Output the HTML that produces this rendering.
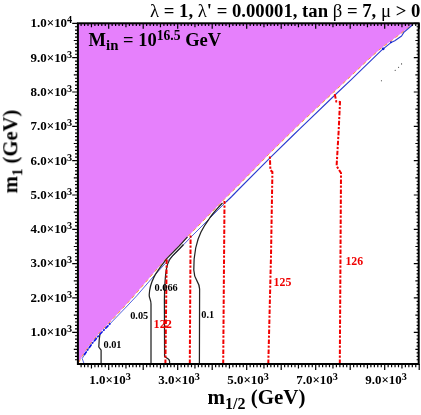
<!DOCTYPE html>
<html><head><meta charset="utf-8"><title>plot</title>
<style>html,body{margin:0;padding:0;background:#fff;}body{width:421px;height:415px;overflow:hidden;}svg{display:block;will-change:transform;}text{font-family:"Liberation Serif",serif;font-weight:bold;fill:#000;}.g{font-weight:normal;}.r{fill:#f00000;}</style>
</head><body>
<svg width="421" height="415" viewBox="0 0 421 415">
<defs><filter id="nf" filterUnits="userSpaceOnUse" x="0" y="0" width="421" height="415"><feOffset dx="0" dy="0"/></filter></defs>
<rect width="421" height="415" fill="#fff"/>
<polygon points="77.9,364.0 78.6,362.6 79.5,361 84.5,352.5 91,343 98.9,333.4 106.8,325.2 116.4,315.1 129.1,301.3 135.9,293.6 151.8,275 166.2,258.6 180,244.8 190.2,234 224,199.6 237.5,186.2 268.8,154.2 297.5,126 333.8,92 351,75.9 367.9,59.9 381.4,47.9 391.5,40.6 401.6,32.9 412.5,24.2 413.5,23.3 77.9,23.3" fill="#e680fc"/>
<polyline points="78.6,362.6 79.5,361 84.5,352.5 91,343 98.9,333.4 106.8,325.2 116.4,315.1 129.1,301.3 135.9,293.6 151.8,275 166.2,258.6 180,244.8 190.2,234 224,199.6 237.5,186.2 268.8,154.2 297.5,126 333.8,92 351,75.9 367.9,59.9 381.4,47.9 391.5,40.6 401.6,32.9 412.5,24.2" fill="none" stroke="#ff9a30" stroke-width="1" stroke-dasharray="3.5 3.5"/>
<polyline points="83.8,363 82.2,358.5 85.5,353 92,343.6 99.9,334.2 107.9,326 117.5,316 127.2,306 137,295.5 153,277 168,260.5 175,253.6 181.5,246.8 192,236 226,202" fill="none" stroke="#3344d8" stroke-width="0.85" stroke-linejoin="round"/>
<polyline points="226,202 231.7,196.5 240,188 270.5,157.3 293.4,135 300,128.6 335.5,94.5 351,79.9 360,71.2 381.4,50.4 390.6,42.8 394.8,40.8 401.6,36 403.8,32.4 413,24.5" fill="none" stroke="#2a3ad0" stroke-width="1.1" stroke-linejoin="round"/>
<polyline points="84.2,355 85.8,352.6 92.2,343.4 100.1,334 108,325.8 110.5,323.2" fill="none" stroke="#1010e8" stroke-width="1.7" stroke-dasharray="4 1.5 1.5 1.5"/>
<circle cx="383.2" cy="48.8" r="1.4" fill="#1020d0"/><circle cx="391" cy="42.3" r="1" fill="#1020d0"/>
<g fill="#222"><circle cx="381.4" cy="80.8" r="0.55"/><circle cx="395.2" cy="70.3" r="0.55"/><circle cx="398.6" cy="67.3" r="0.55"/><circle cx="401.6" cy="63.9" r="0.55"/></g>
<path d="M101.1,364.0 L101.1,350.2 L98.8,347 L99.2,340 L99.9,334.5" stroke="#222" stroke-width="1.25" fill="none" stroke-linejoin="round"/>
<path d="M151,364.0 L151,304 C151,299 149.2,299 149.2,295 C149.4,289 152,281 154.2,276.6 C156,273 158,270.5 159.8,267.9 L167.0,258.4 L179.3,245.9 L187.5,236.8" stroke="#222" stroke-width="1.25" fill="none" stroke-linejoin="round"/>
<path d="M169.6,364.0 L169.6,361.5 Q169.6,360 168.3,359 L164.6,356.4 L164.4,300 C164.6,285 165.5,270 167.7,263.9 C169,260 171,257.5 172.5,255.9 L180,248.2 L183.5,244.5" stroke="#222" stroke-width="1.25" fill="none" stroke-linejoin="round"/>
<path d="M199.4,364.0 L199.6,289 C199.6,281 194,281 193.8,270 C193.6,262 194.5,254 195.7,248 C197,242 199,236 201,232 C203.5,227 206,223 209,219 C212,214.5 216,210 219.7,206 L222.5,203" stroke="#222" stroke-width="1.25" fill="none" stroke-linejoin="round"/>
<path d="M165.4,364.0 L166.7,258.6" stroke="#f00000" stroke-width="2.0" fill="none" stroke-dasharray="4.6 1.6 2.2 1.6"/>
<path d="M189.8,364.0 L190.6,234.5" stroke="#f00000" stroke-width="2.0" fill="none" stroke-dasharray="4.6 1.6 2.2 1.6"/>
<path d="M223.2,364.0 L224.5,201" stroke="#f00000" stroke-width="2.0" fill="none" stroke-dasharray="4.6 1.6 2.2 1.6"/>
<path d="M268.3,364.0 L271,256 L272.4,172 L270.4,170 L269.8,155" stroke="#f00000" stroke-width="2.0" fill="none" stroke-dasharray="4.6 1.6 2.2 1.6"/>
<path d="M339.8,364.0 L341,173 L336.6,166 L338.6,132 L340,102 L336.3,101.5 L334.4,92.5" stroke="#f00000" stroke-width="2.0" fill="none" stroke-dasharray="4.6 1.6 2.2 1.6"/>
<path d="M75.0,359.76H77.9M416.6,359.76H418.7M81.10,364.0V367.2M81.10,23.3V25.95M75.0,356.33H77.9M416.6,356.33H418.7M84.55,364.0V367.2M84.55,23.3V25.95M75.0,352.90H77.9M416.6,352.90H418.7M88.00,364.0V367.2M88.00,23.3V25.95M73.80000000000001,349.47H77.9M415.4,349.47H418.7M91.45,364.0V368.40000000000003M91.45,23.3V27.150000000000002M75.0,346.03H77.9M416.6,346.03H418.7M94.90,364.0V367.2M94.90,23.3V25.95M75.0,342.60H77.9M416.6,342.60H418.7M98.35,364.0V367.2M98.35,23.3V25.95M75.0,339.17H77.9M416.6,339.17H418.7M101.80,364.0V367.2M101.80,23.3V25.95M75.0,335.73H77.9M416.6,335.73H418.7M105.25,364.0V367.2M105.25,23.3V25.95M72.2,332.30H77.9M413.8,332.30H418.7M108.70,364.0V370.0M108.70,23.3V28.75M75.0,328.87H77.9M416.6,328.87H418.7M112.15,364.0V367.2M112.15,23.3V25.95M75.0,325.43H77.9M416.6,325.43H418.7M115.60,364.0V367.2M115.60,23.3V25.95M75.0,322.00H77.9M416.6,322.00H418.7M119.05,364.0V367.2M119.05,23.3V25.95M75.0,318.57H77.9M416.6,318.57H418.7M122.50,364.0V367.2M122.50,23.3V25.95M73.80000000000001,315.13H77.9M415.4,315.13H418.7M125.95,364.0V368.40000000000003M125.95,23.3V27.150000000000002M75.0,311.70H77.9M416.6,311.70H418.7M129.40,364.0V367.2M129.40,23.3V25.95M75.0,308.27H77.9M416.6,308.27H418.7M132.85,364.0V367.2M132.85,23.3V25.95M75.0,304.84H77.9M416.6,304.84H418.7M136.30,364.0V367.2M136.30,23.3V25.95M75.0,301.40H77.9M416.6,301.40H418.7M139.75,364.0V367.2M139.75,23.3V25.95M72.2,297.97H77.9M413.8,297.97H418.7M143.20,364.0V370.0M143.20,23.3V28.75M75.0,294.54H77.9M416.6,294.54H418.7M146.65,364.0V367.2M146.65,23.3V25.95M75.0,291.10H77.9M416.6,291.10H418.7M150.10,364.0V367.2M150.10,23.3V25.95M75.0,287.67H77.9M416.6,287.67H418.7M153.55,364.0V367.2M153.55,23.3V25.95M75.0,284.24H77.9M416.6,284.24H418.7M157.00,364.0V367.2M157.00,23.3V25.95M73.80000000000001,280.81H77.9M415.4,280.81H418.7M160.45,364.0V368.40000000000003M160.45,23.3V27.150000000000002M75.0,277.37H77.9M416.6,277.37H418.7M163.90,364.0V367.2M163.90,23.3V25.95M75.0,273.94H77.9M416.6,273.94H418.7M167.35,364.0V367.2M167.35,23.3V25.95M75.0,270.51H77.9M416.6,270.51H418.7M170.80,364.0V367.2M170.80,23.3V25.95M75.0,267.07H77.9M416.6,267.07H418.7M174.25,364.0V367.2M174.25,23.3V25.95M72.2,263.64H77.9M413.8,263.64H418.7M177.70,364.0V370.0M177.70,23.3V28.75M75.0,260.21H77.9M416.6,260.21H418.7M181.15,364.0V367.2M181.15,23.3V25.95M75.0,256.77H77.9M416.6,256.77H418.7M184.60,364.0V367.2M184.60,23.3V25.95M75.0,253.34H77.9M416.6,253.34H418.7M188.05,364.0V367.2M188.05,23.3V25.95M75.0,249.91H77.9M416.6,249.91H418.7M191.50,364.0V367.2M191.50,23.3V25.95M73.80000000000001,246.48H77.9M415.4,246.48H418.7M194.95,364.0V368.40000000000003M194.95,23.3V27.150000000000002M75.0,243.04H77.9M416.6,243.04H418.7M198.40,364.0V367.2M198.40,23.3V25.95M75.0,239.61H77.9M416.6,239.61H418.7M201.85,364.0V367.2M201.85,23.3V25.95M75.0,236.18H77.9M416.6,236.18H418.7M205.30,364.0V367.2M205.30,23.3V25.95M75.0,232.74H77.9M416.6,232.74H418.7M208.75,364.0V367.2M208.75,23.3V25.95M72.2,229.31H77.9M413.8,229.31H418.7M212.20,364.0V370.0M212.20,23.3V28.75M75.0,225.88H77.9M416.6,225.88H418.7M215.65,364.0V367.2M215.65,23.3V25.95M75.0,222.44H77.9M416.6,222.44H418.7M219.10,364.0V367.2M219.10,23.3V25.95M75.0,219.01H77.9M416.6,219.01H418.7M222.55,364.0V367.2M222.55,23.3V25.95M75.0,215.58H77.9M416.6,215.58H418.7M226.00,364.0V367.2M226.00,23.3V25.95M73.80000000000001,212.15H77.9M415.4,212.15H418.7M229.45,364.0V368.40000000000003M229.45,23.3V27.150000000000002M75.0,208.71H77.9M416.6,208.71H418.7M232.90,364.0V367.2M232.90,23.3V25.95M75.0,205.28H77.9M416.6,205.28H418.7M236.35,364.0V367.2M236.35,23.3V25.95M75.0,201.85H77.9M416.6,201.85H418.7M239.80,364.0V367.2M239.80,23.3V25.95M75.0,198.41H77.9M416.6,198.41H418.7M243.25,364.0V367.2M243.25,23.3V25.95M72.2,194.98H77.9M413.8,194.98H418.7M246.70,364.0V370.0M246.70,23.3V28.75M75.0,191.55H77.9M416.6,191.55H418.7M250.15,364.0V367.2M250.15,23.3V25.95M75.0,188.11H77.9M416.6,188.11H418.7M253.60,364.0V367.2M253.60,23.3V25.95M75.0,184.68H77.9M416.6,184.68H418.7M257.05,364.0V367.2M257.05,23.3V25.95M75.0,181.25H77.9M416.6,181.25H418.7M260.50,364.0V367.2M260.50,23.3V25.95M73.80000000000001,177.82H77.9M415.4,177.82H418.7M263.95,364.0V368.40000000000003M263.95,23.3V27.150000000000002M75.0,174.38H77.9M416.6,174.38H418.7M267.40,364.0V367.2M267.40,23.3V25.95M75.0,170.95H77.9M416.6,170.95H418.7M270.85,364.0V367.2M270.85,23.3V25.95M75.0,167.52H77.9M416.6,167.52H418.7M274.30,364.0V367.2M274.30,23.3V25.95M75.0,164.08H77.9M416.6,164.08H418.7M277.75,364.0V367.2M277.75,23.3V25.95M72.2,160.65H77.9M413.8,160.65H418.7M281.20,364.0V370.0M281.20,23.3V28.75M75.0,157.22H77.9M416.6,157.22H418.7M284.65,364.0V367.2M284.65,23.3V25.95M75.0,153.78H77.9M416.6,153.78H418.7M288.10,364.0V367.2M288.10,23.3V25.95M75.0,150.35H77.9M416.6,150.35H418.7M291.55,364.0V367.2M291.55,23.3V25.95M75.0,146.92H77.9M416.6,146.92H418.7M295.00,364.0V367.2M295.00,23.3V25.95M73.80000000000001,143.49H77.9M415.4,143.49H418.7M298.45,364.0V368.40000000000003M298.45,23.3V27.150000000000002M75.0,140.05H77.9M416.6,140.05H418.7M301.90,364.0V367.2M301.90,23.3V25.95M75.0,136.62H77.9M416.6,136.62H418.7M305.35,364.0V367.2M305.35,23.3V25.95M75.0,133.19H77.9M416.6,133.19H418.7M308.80,364.0V367.2M308.80,23.3V25.95M75.0,129.75H77.9M416.6,129.75H418.7M312.25,364.0V367.2M312.25,23.3V25.95M72.2,126.32H77.9M413.8,126.32H418.7M315.70,364.0V370.0M315.70,23.3V28.75M75.0,122.89H77.9M416.6,122.89H418.7M319.15,364.0V367.2M319.15,23.3V25.95M75.0,119.45H77.9M416.6,119.45H418.7M322.60,364.0V367.2M322.60,23.3V25.95M75.0,116.02H77.9M416.6,116.02H418.7M326.05,364.0V367.2M326.05,23.3V25.95M75.0,112.59H77.9M416.6,112.59H418.7M329.50,364.0V367.2M329.50,23.3V25.95M73.80000000000001,109.16H77.9M415.4,109.16H418.7M332.95,364.0V368.40000000000003M332.95,23.3V27.150000000000002M75.0,105.72H77.9M416.6,105.72H418.7M336.40,364.0V367.2M336.40,23.3V25.95M75.0,102.29H77.9M416.6,102.29H418.7M339.85,364.0V367.2M339.85,23.3V25.95M75.0,98.86H77.9M416.6,98.86H418.7M343.30,364.0V367.2M343.30,23.3V25.95M75.0,95.42H77.9M416.6,95.42H418.7M346.75,364.0V367.2M346.75,23.3V25.95M72.2,91.99H77.9M413.8,91.99H418.7M350.20,364.0V370.0M350.20,23.3V28.75M75.0,88.56H77.9M416.6,88.56H418.7M353.65,364.0V367.2M353.65,23.3V25.95M75.0,85.12H77.9M416.6,85.12H418.7M357.10,364.0V367.2M357.10,23.3V25.95M75.0,81.69H77.9M416.6,81.69H418.7M360.55,364.0V367.2M360.55,23.3V25.95M75.0,78.26H77.9M416.6,78.26H418.7M364.00,364.0V367.2M364.00,23.3V25.95M73.80000000000001,74.82H77.9M415.4,74.82H418.7M367.45,364.0V368.40000000000003M367.45,23.3V27.150000000000002M75.0,71.39H77.9M416.6,71.39H418.7M370.90,364.0V367.2M370.90,23.3V25.95M75.0,67.96H77.9M416.6,67.96H418.7M374.35,364.0V367.2M374.35,23.3V25.95M75.0,64.53H77.9M416.6,64.53H418.7M377.80,364.0V367.2M377.80,23.3V25.95M75.0,61.09H77.9M416.6,61.09H418.7M381.25,364.0V367.2M381.25,23.3V25.95M72.2,57.66H77.9M413.8,57.66H418.7M384.70,364.0V370.0M384.70,23.3V28.75M75.0,54.23H77.9M416.6,54.23H418.7M388.15,364.0V367.2M388.15,23.3V25.95M75.0,50.79H77.9M416.6,50.79H418.7M391.60,364.0V367.2M391.60,23.3V25.95M75.0,47.36H77.9M416.6,47.36H418.7M395.05,364.0V367.2M395.05,23.3V25.95M75.0,43.93H77.9M416.6,43.93H418.7M398.50,364.0V367.2M398.50,23.3V25.95M73.80000000000001,40.50H77.9M415.4,40.50H418.7M401.95,364.0V368.40000000000003M401.95,23.3V27.150000000000002M75.0,37.06H77.9M416.6,37.06H418.7M405.40,364.0V367.2M405.40,23.3V25.95M75.0,33.63H77.9M416.6,33.63H418.7M408.85,364.0V367.2M408.85,23.3V25.95M75.0,30.20H77.9M416.6,30.20H418.7M412.30,364.0V367.2M412.30,23.3V25.95M75.0,26.76H77.9M416.6,26.76H418.7M415.75,364.0V367.2M415.75,23.3V25.95M72.2,23.33H77.9M413.8,23.33H418.7M419.20,364.0V370.0M419.20,23.3V28.75" stroke="#000" stroke-width="1.2" fill="none"/>
<rect x="77.9" y="23.3" width="340.79999999999995" height="340.7" fill="none" stroke="#000" stroke-width="2"/>
<g filter="url(#nf)">
<text x="72.2" y="336.1" font-size="12.95" text-anchor="end">1.0×10<tspan dy="-4" font-size="10.2">3</tspan></text>
<text x="72.2" y="301.8" font-size="12.95" text-anchor="end">2.0×10<tspan dy="-4" font-size="10.2">3</tspan></text>
<text x="72.2" y="267.4" font-size="12.95" text-anchor="end">3.0×10<tspan dy="-4" font-size="10.2">3</tspan></text>
<text x="72.2" y="233.1" font-size="12.95" text-anchor="end">4.0×10<tspan dy="-4" font-size="10.2">3</tspan></text>
<text x="72.2" y="198.8" font-size="12.95" text-anchor="end">5.0×10<tspan dy="-4" font-size="10.2">3</tspan></text>
<text x="72.2" y="164.5" font-size="12.95" text-anchor="end">6.0×10<tspan dy="-4" font-size="10.2">3</tspan></text>
<text x="72.2" y="130.1" font-size="12.95" text-anchor="end">7.0×10<tspan dy="-4" font-size="10.2">3</tspan></text>
<text x="72.2" y="95.8" font-size="12.95" text-anchor="end">8.0×10<tspan dy="-4" font-size="10.2">3</tspan></text>
<text x="72.2" y="61.5" font-size="12.95" text-anchor="end">9.0×10<tspan dy="-4" font-size="10.2">3</tspan></text>
<text x="72.2" y="27.1" font-size="12.95" text-anchor="end">1.0×10<tspan dy="-4" font-size="10.2">4</tspan></text>
<text x="110.0" y="383.6" font-size="12.95" text-anchor="middle">1.0×10<tspan dy="-4" font-size="10.2">3</tspan></text>
<text x="179.0" y="383.6" font-size="12.95" text-anchor="middle">3.0×10<tspan dy="-4" font-size="10.2">3</tspan></text>
<text x="248.0" y="383.6" font-size="12.95" text-anchor="middle">5.0×10<tspan dy="-4" font-size="10.2">3</tspan></text>
<text x="317.0" y="383.6" font-size="12.95" text-anchor="middle">7.0×10<tspan dy="-4" font-size="10.2">3</tspan></text>
<text x="386.0" y="383.6" font-size="12.95" text-anchor="middle">9.0×10<tspan dy="-4" font-size="10.2">3</tspan></text>
<text x="420.3" y="17.4" font-size="18.7" text-anchor="end"><tspan class="g">λ</tspan> = 1, <tspan class="g">λ</tspan>' = 0.00001, tan <tspan class="g">β</tspan> = 7, <tspan class="g">μ</tspan> &gt; 0</text>
<text x="88.6" y="45.6" font-size="18.5">M<tspan dy="4.6" font-size="14.8">in</tspan><tspan dy="-4.6"> = 10</tspan><tspan dy="-5.3" font-size="13.6">16.5</tspan><tspan dy="5.3"> GeV</tspan></text>
<text x="207.5" y="403.5" font-size="21">m<tspan dy="5" font-size="16">1/2</tspan><tspan dy="-5"> (GeV)</tspan></text>
<text transform="translate(17.3,193.3) rotate(-90)" font-size="20.6">m<tspan dy="4.6" font-size="15">1</tspan><tspan dy="-4.6"> (GeV)</tspan></text>
<text x="103.5" y="348.4" font-size="10.3">0.01</text>
<text x="130.2" y="318.8" font-size="10.3">0.05</text>
<text x="154.6" y="291.1" font-size="10.3">0.066</text>
<text x="201.3" y="317.6" font-size="10.3">0.1</text>
<text x="153.6" y="327.8" font-size="12.2" class="r">122</text>
<text x="273.6" y="286.2" font-size="11.8" class="r">125</text>
<text x="345.4" y="264.5" font-size="11.8" class="r">126</text>
</g>
</svg></body></html>
